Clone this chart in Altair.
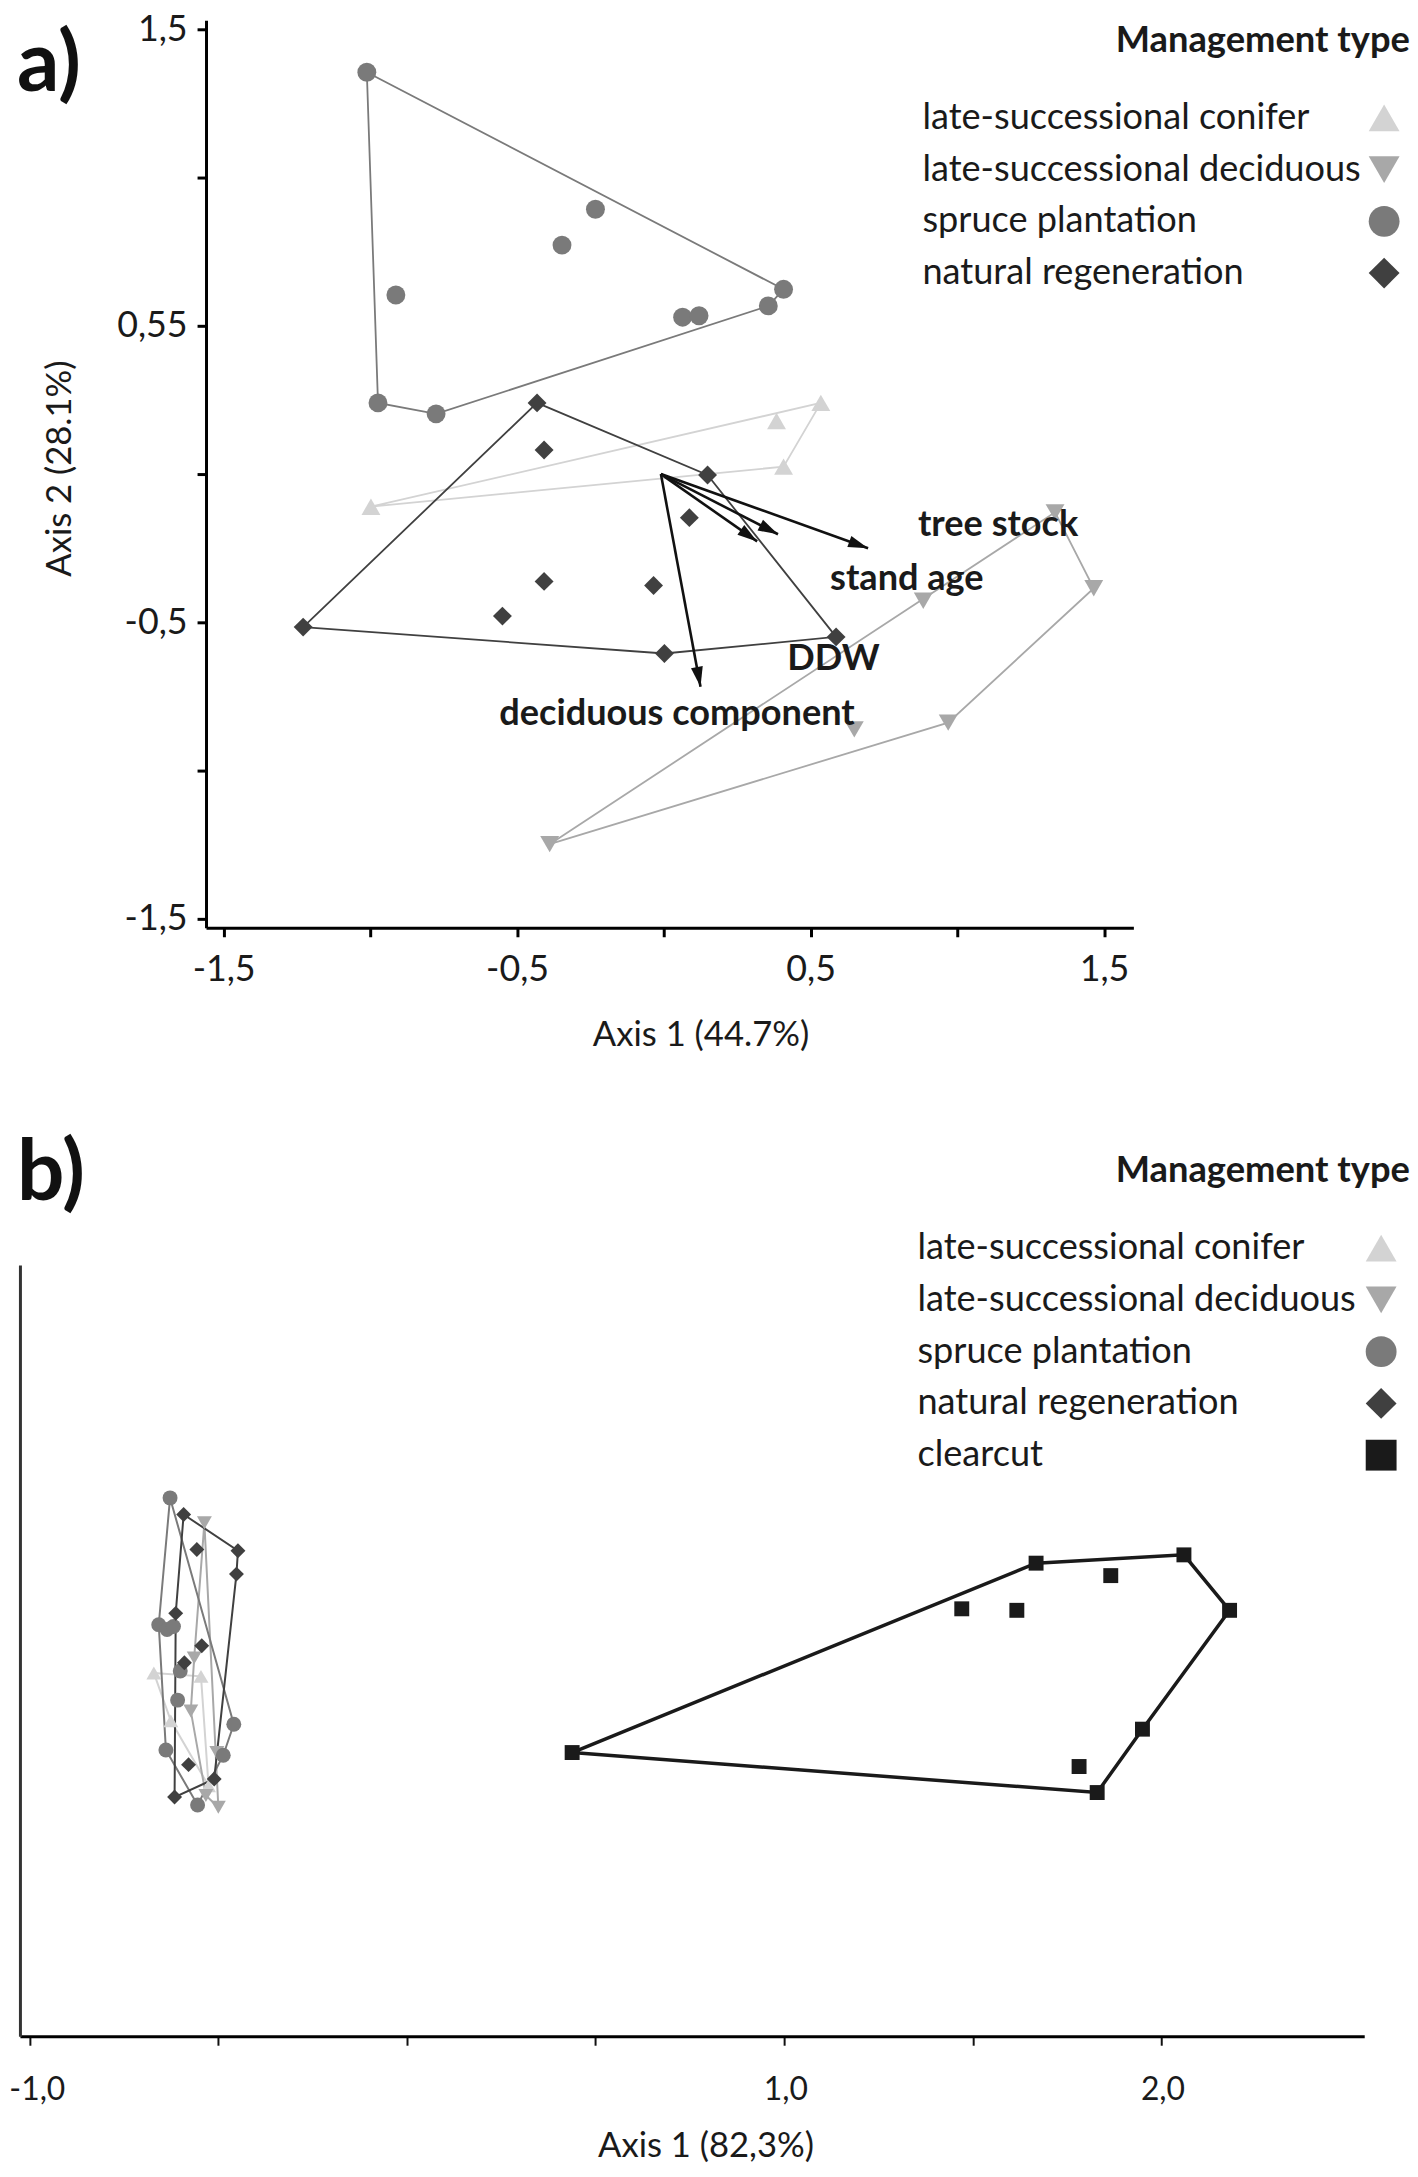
import math
import altair as alt
import pandas as pd

FONT = "Lato"

CATS = ["late-successional conifer", "late-successional deciduous",
        "spruce plantation", "natural regeneration", "clearcut"]
COLORS = ["#d3d3d3", "#a8a8a8", "#7a7a7a", "#404040", "#1a1a1a"]
SHAPES = ["triangle-up", "triangle-down", "circle", "diamond", "square"]

# ---------------- panel a data ----------------
conifer_a_x = [-0.998, 0.384, 0.535, 0.408]
conifer_a_y = [-0.110, 0.179, 0.240, 0.025]
conifer_a_hull = [0, 2, 3, 0]

decid_a_x = [1.333, 1.465, 0.884, 0.649, 0.969, -0.389]
decid_a_y = [-0.129, -0.385, -0.427, -0.861, -0.838, -1.248]
decid_a_hull = [5, 0, 1, 4, 5]

spruce_a_x = [-1.012, -0.233, -0.347, -0.913, 0.064, 0.120, 0.356, 0.408, -0.974, -0.776]
spruce_a_y = [1.355, 0.893, 0.772, 0.604, 0.529, 0.534, 0.567, 0.623, 0.240, 0.203]
spruce_a_hull = [0, 7, 6, 9, 8, 0]

natreg_a_x = [-0.432, -0.408, 0.149, 0.087, -0.408, -0.035, -0.550, -1.229, 0.002, 0.587]
natreg_a_y = [0.240, 0.081, -0.003, -0.147, -0.362, -0.376, -0.479, -0.516, -0.605, -0.549]
natreg_a_hull = [7, 0, 2, 9, 8, 7]

arrow_names = ["tree stock", "stand age", "DDW", "deciduous component"]
arrow_x0 = [-0.01, -0.01, -0.01, -0.01]
arrow_y0 = [0.0, 0.0, 0.0, 0.0]
arrow_x1 = [0.696, 0.389, 0.318, 0.125]
arrow_y1 = [-0.250, -0.203, -0.227, -0.717]
arrow_lab_x = [1.139, 0.828, 0.578, 0.045]
arrow_lab_y = [-0.171, -0.353, -0.623, -0.810]

ticks_a_x = [-1.5, -1.0, -0.5, 0.0, 0.5, 1.0, 1.5]
labels_a_x = ["-1,5", "", "-0,5", "", "0,5", "", "1,5"]
ticks_a_y = [1.5, 1.0, 0.5, 0.0, -0.5, -1.0, -1.5]
labels_a_y = ["1,5", "", "0,55", "", "-0,5", "", "-1,5"]

# ---------------- panel b data ----------------
conifer_b_x = [-0.671, -0.546, -0.626, -0.526]
conifer_b_y = [-0.060, -0.069, -0.187, -0.359]
conifer_b_hull = [0, 1, 3, 2, 0]

decid_b_x = [-0.537, -0.564, -0.573, -0.504, -0.533, -0.500]
decid_b_y = [0.338, -0.020, -0.161, -0.271, -0.385, -0.416]
decid_b_hull = [0, 5, 4, 2, 1, 0]

spruce_b_x = [-0.628, -0.658, -0.636, -0.619, -0.601, -0.608, -0.459, -0.487, -0.639, -0.555]
spruce_b_y = [0.404, 0.068, 0.055, 0.063, -0.055, -0.132, -0.196, -0.278, -0.264, -0.410]
spruce_b_hull = [0, 6, 7, 9, 8, 1, 0]

natreg_b_x = [-0.592, -0.448, -0.452, -0.557, -0.613, -0.544, -0.590, -0.579, -0.511, -0.616]
natreg_b_y = [0.360, 0.264, 0.202, 0.267, 0.098, 0.012, -0.033, -0.303, -0.341, -0.389]
natreg_b_hull = [0, 1, 2, 8, 9, 4, 0]

clear_b_x = [0.438, 1.668, 2.060, 2.181, 1.950, 1.830, 1.471, 1.617, 1.866, 1.782]
clear_b_y = [-0.271, 0.231, 0.253, 0.106, -0.209, -0.377, 0.110, 0.106, 0.198, -0.308]
clear_b_hull = [0, 1, 2, 3, 4, 5, 0]

ticks_b_x = [-1.0, -0.5, 0.0, 0.5, 1.0, 1.5, 2.0]
labels_b_x = ["-1,0", "", "", "", "1,0", "", "2,0"]


def label_expr(ticks, labels):
    expr = "''"
    for t, l in reversed(list(zip(ticks, labels))):
        expr = f"abs(datum.value - ({t})) < 1e-6 ? '{l}' : ({expr})"
    return expr


def points_df(groups):
    rows = []
    for cat, xs, ys in groups:
        for x, y in zip(xs, ys):
            rows.append({"x": x, "y": y, "cat": cat})
    return pd.DataFrame(rows)


def hull_df(groups):
    rows = []
    for cat, xs, ys, hull in groups:
        for k, i in enumerate(hull):
            rows.append({"x": xs[i], "y": ys[i], "cat": cat, "k": k})
    return pd.DataFrame(rows)


color_scale = alt.Scale(domain=CATS, range=COLORS)
shape_scale = alt.Scale(domain=CATS, range=SHAPES)
LEG_SIZES = [961, 961, 900, 1089, 530]

LEG_FS = 36.3
HEAD_FS = 36.5
TICK_FS_A = 36
TICK_FS_B = 32
TITLE_FS = 34.8
PANEL_FS = 84

# ================= PANEL A =================
VIEW_W = 1351
A_LEFT, A_RIGHT = 187, 1119      # plot extent of panel a inside the shared view width
HA = 912
XA_DOM = [-1.56, 1.60]
YA_DOM = [-1.53, 1.53]
xa_scale = alt.Scale(domain=XA_DOM, range=[A_LEFT, A_RIGHT], nice=False, zero=False)
ya_scale = alt.Scale(domain=YA_DOM, nice=False, zero=False)

xa_axis = alt.Axis(values=ticks_a_x, labelExpr=label_expr(ticks_a_x, labels_a_x),
                   title="Axis 1 (44.7%)", titleX=684, titleY=108, titleBaseline="middle",
                   titleAlign="center", titleFont=FONT, titleFontSize=TITLE_FS,
                   titleFontWeight="normal", titleColor="#1a1a1a",
                   labelFont=FONT, labelFontSize=TICK_FS_A, labelColor="#1a1a1a",
                   labelPadding=16, labelFlush=False, labelOverlap=False,
                   domainColor="#000000", domainWidth=3, tickColor="#000000",
                   tickWidth=3, tickSize=9, grid=False)
ya_axis = alt.Axis(values=ticks_a_y, labelExpr=label_expr(ticks_a_y, labels_a_y),
                   offset=-A_LEFT,
                   title="Axis 2 (28.1%)", titleX=-146, titleY=450, titleAngle=270,
                   titleBaseline="middle", titleAlign="center", titleFont=FONT,
                   titleFontSize=TITLE_FS, titleFontWeight="normal", titleColor="#1a1a1a",
                   labelFont=FONT, labelFontSize=TICK_FS_A, labelColor="#1a1a1a",
                   labelPadding=10, labelFlush=False, labelOverlap=False,
                   domainColor="#000000", domainWidth=3, tickColor="#000000",
                   tickWidth=3, tickSize=9, grid=False)

groups_a = [
    (CATS[0], conifer_a_x, conifer_a_y, conifer_a_hull),
    (CATS[1], decid_a_x, decid_a_y, decid_a_hull),
    (CATS[2], spruce_a_x, spruce_a_y, spruce_a_hull),
    (CATS[3], natreg_a_x, natreg_a_y, natreg_a_hull),
]
pts_a_df = points_df([(g[0], g[1], g[2]) for g in groups_a])
hull_a_df = hull_df(groups_a)

hull_a = alt.Chart(hull_a_df).mark_line(strokeWidth=1.8).encode(
    x=alt.X("x:Q", scale=xa_scale, axis=None),
    y=alt.Y("y:Q", scale=ya_scale, axis=None),
    color=alt.Color("cat:N", scale=color_scale, legend=None),
    detail="cat:N",
    order="k:Q",
)

pts_a = alt.Chart(pts_a_df).mark_point(filled=True, opacity=1).encode(
    x=alt.X("x:Q", scale=xa_scale, axis=xa_axis),
    y=alt.Y("y:Q", scale=ya_scale, axis=ya_axis),
    color=alt.Color("cat:N", scale=color_scale, legend=None),
    shape=alt.Shape("cat:N", scale=shape_scale, legend=None),
    size=alt.Size("cat:N", scale=alt.Scale(domain=CATS, range=[361, 361, 361, 225, 196]),
                  legend=None),
)

# arrows
pxx = (A_RIGHT - A_LEFT) / (XA_DOM[1] - XA_DOM[0])
pxy = HA / (YA_DOM[1] - YA_DOM[0])
arrow_df = pd.DataFrame({
    "name": arrow_names, "x0": arrow_x0, "y0": arrow_y0,
    "x1": arrow_x1, "y1": arrow_y1, "lx": arrow_lab_x, "ly": arrow_lab_y,
})
arrow_df["ang"] = [
    math.degrees(math.atan2((x1 - x0) * pxx, (y1 - y0) * pxy)) % 360
    for x0, y0, x1, y1 in zip(arrow_x0, arrow_y0, arrow_x1, arrow_y1)
]

arrow_lines = alt.Chart(arrow_df).mark_rule(strokeWidth=2.6, color="#111111").encode(
    x=alt.X("x0:Q", scale=xa_scale, axis=None),
    y=alt.Y("y0:Q", scale=ya_scale, axis=None),
    x2="x1:Q", y2="y1:Q",
)
arrow_heads = alt.Chart(arrow_df).mark_point(
    shape="M0,0L-0.3,1L0.3,1Z", filled=True, opacity=1, color="#111111", size=1600
).encode(
    x=alt.X("x1:Q", scale=xa_scale, axis=None),
    y=alt.Y("y1:Q", scale=ya_scale, axis=None),
    angle=alt.Angle("ang:Q", scale=None),
)
arrow_text = alt.Chart(arrow_df).mark_text(
    font=FONT, fontSize=LEG_FS, fontWeight="bold", color="#1a1a1a", baseline="middle"
).encode(
    x=alt.X("lx:Q", scale=xa_scale, axis=None),
    y=alt.Y("ly:Q", scale=ya_scale, axis=None),
    text="name:N",
)

# legend a
leg_a_df = pd.DataFrame({"cat": CATS[:4]})
leg_a_y = alt.Y("cat:N", scale=alt.Scale(type="point", domain=CATS[:4], range=[98, 254],
                                         padding=0), axis=None)
leg_a_text = alt.Chart(leg_a_df).mark_text(
    font=FONT, fontSize=LEG_FS, align="left", baseline="middle", color="#1a1a1a"
).encode(x=alt.value(907), y=leg_a_y, text="cat:N")
leg_a_sym = alt.Chart(leg_a_df).mark_point(filled=True, opacity=1).encode(
    x=alt.value(1371), y=leg_a_y,
    color=alt.Color("cat:N", scale=color_scale, legend=None),
    shape=alt.Shape("cat:N", scale=shape_scale, legend=None),
    size=alt.Size("cat:N", scale=alt.Scale(domain=CATS, range=LEG_SIZES), legend=None),
)
title_a_df = pd.DataFrame({"t": ["Management type"], "p": ["a)"]})
leg_a_title = alt.Chart(title_a_df).mark_text(
    font=FONT, fontSize=HEAD_FS, fontWeight="bold", align="right", baseline="middle",
    color="#1a1a1a"
).encode(x=alt.value(1397), y=alt.value(21), text="t:N")
panel_a_lab = alt.Chart(title_a_df).mark_text(
    font=FONT, fontSize=PANEL_FS, fontWeight="bold", align="left", baseline="middle",
    color="#111111"
).encode(x=alt.value(-3), y=alt.value(46), text="p:N")

panel_a = alt.layer(
    hull_a, pts_a, arrow_lines, arrow_heads, arrow_text,
    leg_a_text, leg_a_sym, leg_a_title, panel_a_lab
).resolve_scale(x="independent", y="independent", size="independent").properties(
    width=VIEW_W, height=HA)

# ================= PANEL B =================
WB, HB = VIEW_W, 775
XB_DOM = [-1.026, 2.538]
YB_DOM = [-1.023, 1.021]
xb_scale = alt.Scale(domain=XB_DOM, nice=False, zero=False)
yb_scale = alt.Scale(domain=YB_DOM, nice=False, zero=False)

xb_axis = alt.Axis(values=ticks_b_x, labelExpr=label_expr(ticks_b_x, labels_b_x),
                   labelAlign="left", labelOffset=-21,
                   title="Axis 1 (82,3%)", titleX=689, titleY=111, titleBaseline="middle",
                   titleAlign="center", titleFont=FONT, titleFontSize=TITLE_FS,
                   titleFontWeight="normal", titleColor="#1a1a1a",
                   labelFont=FONT, labelFontSize=TICK_FS_B, labelColor="#1a1a1a",
                   labelPadding=30, labelFlush=False, labelOverlap=False,
                   domainColor="#000000", domainWidth=3, tickColor="#111111",
                   tickWidth=2, tickSize=9, grid=False)
yb_axis = alt.Axis(ticks=False, labels=False, title=None, domainColor="#333333",
                   domainWidth=3, grid=False)

groups_b = [
    (CATS[0], conifer_b_x, conifer_b_y, conifer_b_hull),
    (CATS[1], decid_b_x, decid_b_y, decid_b_hull),
    (CATS[2], spruce_b_x, spruce_b_y, spruce_b_hull),
    (CATS[3], natreg_b_x, natreg_b_y, natreg_b_hull),
]
pts_b_df = points_df([(g[0], g[1], g[2]) for g in groups_b] +
                     [(CATS[4], clear_b_x, clear_b_y)])
hull_b_df = hull_df(groups_b)
hull_c_df = hull_df([(CATS[4], clear_b_x, clear_b_y, clear_b_hull)])

hull_b = alt.Chart(hull_b_df).mark_line(strokeWidth=2).encode(
    x=alt.X("x:Q", scale=xb_scale, axis=None),
    y=alt.Y("y:Q", scale=yb_scale, axis=None),
    color=alt.Color("cat:N", scale=color_scale, legend=None),
    detail="cat:N",
    order="k:Q",
)
hull_c = alt.Chart(hull_c_df).mark_line(strokeWidth=3.5).encode(
    x=alt.X("x:Q", scale=xb_scale, axis=None),
    y=alt.Y("y:Q", scale=yb_scale, axis=None),
    color=alt.Color("cat:N", scale=color_scale, legend=None),
    order="k:Q",
)
pts_b = alt.Chart(pts_b_df).mark_point(filled=True, opacity=1).encode(
    x=alt.X("x:Q", scale=xb_scale, axis=xb_axis),
    y=alt.Y("y:Q", scale=yb_scale, axis=yb_axis),
    color=alt.Color("cat:N", scale=color_scale, legend=None),
    shape=alt.Shape("cat:N", scale=shape_scale, legend=None),
    size=alt.Size("cat:N", scale=alt.Scale(domain=CATS, range=[225, 225, 225, 289, 196]),
                  legend=None),
)

leg_b_df = pd.DataFrame({"cat": CATS})
leg_b_y = alt.Y("cat:N", scale=alt.Scale(type="point", domain=CATS, range=[-17, 191],
                                         padding=0), axis=None)
leg_b_text = alt.Chart(leg_b_df).mark_text(
    font=FONT, fontSize=LEG_FS, align="left", baseline="middle", color="#1a1a1a"
).encode(x=alt.value(902), y=leg_b_y, text="cat:N")
leg_b_sym = alt.Chart(leg_b_df).mark_point(filled=True, opacity=1).encode(
    x=alt.value(1368), y=leg_b_y,
    color=alt.Color("cat:N", scale=color_scale, legend=None),
    shape=alt.Shape("cat:N", scale=shape_scale, legend=None),
    size=alt.Size("cat:N", scale=alt.Scale(domain=CATS, range=LEG_SIZES), legend=None),
)
title_b_df = pd.DataFrame({"t": ["Management type"], "p": ["b)"]})
leg_b_title = alt.Chart(title_b_df).mark_text(
    font=FONT, fontSize=HEAD_FS, fontWeight="bold", align="right", baseline="middle",
    color="#1a1a1a"
).encode(x=alt.value(1397), y=alt.value(-95), text="t:N")
panel_b_lab = alt.Chart(title_b_df).mark_text(
    font=FONT, fontSize=PANEL_FS, fontWeight="bold", align="left", baseline="middle",
    color="#111111"
).encode(x=alt.value(-3), y=alt.value(-90), text="p:N")

panel_b = alt.layer(
    hull_b, hull_c, pts_b, leg_b_text, leg_b_sym, leg_b_title, panel_b_lab
).resolve_scale(x="independent", y="independent", size="independent").properties(
    width=WB, height=HB)

chart = alt.vconcat(panel_a, panel_b, spacing=339, bounds="flush").properties(
    padding={"left": 0, "top": -3, "right": 0, "bottom": 0},
).resolve_scale(size="independent").configure(background="white").configure_view(
    strokeWidth=0, stroke="transparent")

chart.save("out.html", embed_options={"renderer": "svg", "actions": False})
